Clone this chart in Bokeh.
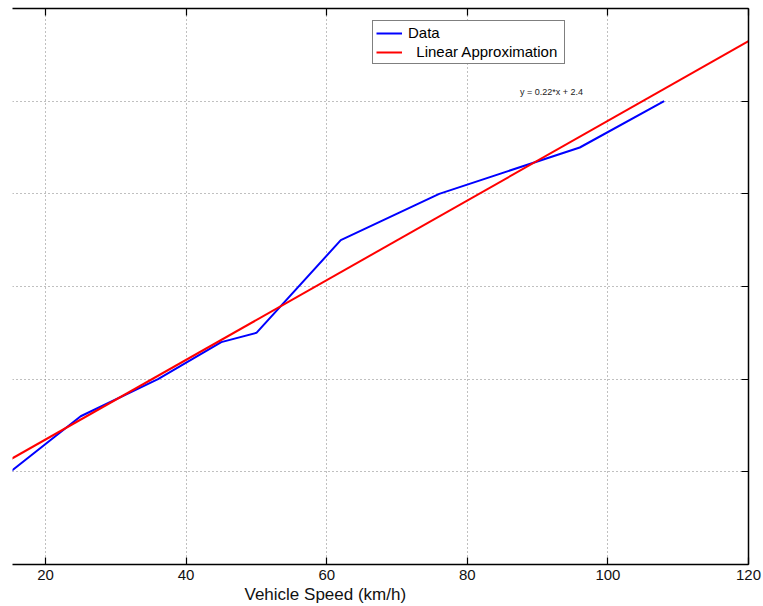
from bokeh.plotting import figure
from bokeh.models import LinearAxis, Legend, LegendItem, Label, FixedTicker, Range1d, Title
from bokeh.embed import file_html
from bokeh.resources import INLINE

# ---- data ----
speed = [15, 25, 36, 45, 50, 62, 76, 96, 108]
data_y = [5.0, 8.0, 10.0, 12.0, 12.5, 17.5, 20.0, 22.5, 25.0]
fit_x = [15, 120]
fit_y = [5.67, 28.24]
x_ticks = [20, 40, 60, 80, 100, 120]
y_ticks = [0, 5, 10, 15, 20, 25, 30]
x_label = "Vehicle Speed (km/h)"
eq_text = "y = 0.22*x + 2.4"
legend_labels = ["Data", "\u00a0\u00a0Linear Approximation\u00a0"]

FONT = "Liberation Sans"

p = figure(width=763, height=606, output_backend="svg", toolbar_location=None,
           x_range=Range1d(15.3, 120), y_range=Range1d(0, 30),
           x_axis_location="below", y_axis_location="right",
           min_border_left=12, min_border_right=15, min_border_top=8,
           min_border_bottom=42)
p.outline_line_color = None
p.background_fill_color = "white"
p.border_fill_color = "white"

def style_axis(ax, ticks, labels=True):
    ax.ticker = FixedTicker(ticks=ticks)
    ax.major_tick_in = 7
    ax.major_tick_out = 0
    ax.minor_tick_line_color = None
    ax.axis_line_color = "black"
    ax.axis_line_width = 1.5
    ax.major_tick_line_color = "black"
    ax.major_tick_line_width = 1.2
    if labels:
        ax.major_label_text_font = FONT
        ax.major_label_text_font_size = "15px"
        ax.major_label_text_color = "#111111"
        ax.major_label_standoff = 5
    else:
        ax.major_label_text_font_size = "0px"
        ax.major_label_text_color = None
        ax.major_label_standoff = 0

bottom = p.below[0]
style_axis(bottom, x_ticks, True)

right = p.right[0]
style_axis(right, y_ticks, False)

top = LinearAxis()
style_axis(top, x_ticks, False)
p.add_layout(top, "above")

p.grid.grid_line_color = "#808080"
p.grid.grid_line_dash = "1 3"
p.grid.grid_line_width = 1

blue = p.line(speed, data_y, line_color="#0000ff", line_width=2)
red = p.line(fit_x, fit_y, line_color="#ff0000", line_width=2)

legend = Legend(items=[LegendItem(label=legend_labels[0], renderers=[blue]),
                       LegendItem(label=legend_labels[1], renderers=[red])],
                location=(360, 500), padding=3, spacing=2, margin=0,
                label_height=16, glyph_height=16, glyph_width=26,
                label_standoff=6, label_text_font=FONT,
                label_text_font_size="15px", label_text_color="black",
                border_line_color="black", border_line_width=1,
                background_fill_color="white", background_fill_alpha=1)
p.add_layout(legend)

p.add_layout(Label(x=87.5, y=25.5, text=eq_text, text_font=FONT,
                   text_font_size="9px", text_baseline="middle",
                   text_color="#222222"))

xtitle = Title(text=x_label, align="left", offset=232, standoff=0,
               text_font=FONT, text_font_size="17px",
               text_font_style="normal", text_color="#111111")
p.add_layout(xtitle, "below")

open("out.html", "w").write(file_html(p, INLINE))
